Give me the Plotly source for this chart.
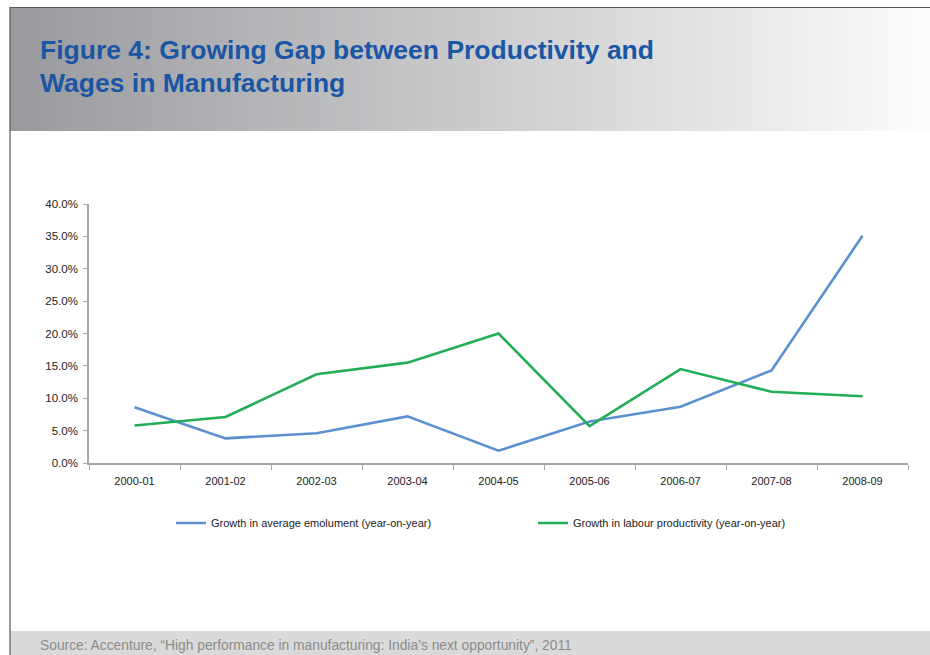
import plotly.graph_objects as go

categories = ["2000-01", "2001-02", "2002-03", "2003-04", "2004-05",
              "2005-06", "2006-07", "2007-08", "2008-09"]
emolument = [8.6, 3.8, 4.6, 7.2, 1.9, 6.4, 8.7, 14.3, 35.1]
productivity = [5.8, 7.1, 13.7, 15.5, 20.0, 5.7, 14.5, 11.0, 10.3]
y_ticks = [0, 5, 10, 15, 20, 25, 30, 35, 40]

W, H = 930, 655
L, R, T, B = 89, 22, 204, 192
PW = W - L - R
PH = H - T - B


def px_x(px):
    return (px - L) / PW


def px_y(py):
    return (H - B - py) / PH


fig = go.Figure()
fig.add_trace(go.Scatter(x=categories, y=emolument, mode="lines",
                         name="Growth in average emolument (year-on-year)",
                         line=dict(color="#5B90CF", width=2.6)))
fig.add_trace(go.Scatter(x=categories, y=productivity, mode="lines",
                         name="Growth in labour productivity (year-on-year)",
                         line=dict(color="#22AE57", width=2.6)))

shapes = []
# header gradient band
n = 120
x0, x1 = 10, 930
for i in range(n):
    t = i / (n - 1)
    c0 = (153, 154, 158)
    c1 = (252, 252, 252)
    c = tuple(int(round(c0[k] + (c1[k] - c0[k]) * t)) for k in range(3))
    a = x0 + (x1 - x0) * i / n
    b = x0 + (x1 - x0) * (i + 1) / n + 0.6
    shapes.append(dict(type="rect", xref="paper", yref="paper",
                       x0=px_x(a), x1=px_x(b), y0=px_y(131), y1=px_y(8),
                       fillcolor="rgb(%d,%d,%d)" % c, line=dict(width=0),
                       layer="below"))
# footer band
shapes.append(dict(type="rect", xref="paper", yref="paper",
                   x0=px_x(10), x1=px_x(930), y0=px_y(656), y1=px_y(631),
                   fillcolor="#DADADA", line=dict(width=0), layer="below"))
# border lines
shapes.append(dict(type="line", xref="paper", yref="paper",
                   x0=px_x(9.5), x1=px_x(930), y0=px_y(7.5), y1=px_y(7.5),
                   line=dict(color="#555555", width=1.2)))
shapes.append(dict(type="line", xref="paper", yref="paper",
                   x0=px_x(10), x1=px_x(10), y0=px_y(7.5), y1=px_y(656),
                   line=dict(color="#555555", width=1.2)))

annotations = [
    dict(text="<b>Figure 4: Growing Gap between Productivity and</b>",
         xref="paper", yref="paper", x=px_x(38), y=px_y(50),
         xanchor="left", yanchor="middle", showarrow=False,
         font=dict(family="Liberation Sans, Arial", size=26.5, color="#1A56A3")),
    dict(text="<b>Wages in Manufacturing</b>",
         xref="paper", yref="paper", x=px_x(38), y=px_y(83),
         xanchor="left", yanchor="middle", showarrow=False,
         font=dict(family="Liberation Sans, Arial", size=26.5, color="#1A56A3")),
    dict(text="Source: Accenture, \u201cHigh performance in manufacturing: India\u2019s next opportunity\u201d, 2011",
         xref="paper", yref="paper", x=px_x(38), y=px_y(645),
         xanchor="left", yanchor="middle", showarrow=False,
         font=dict(family="Liberation Sans, Arial", size=13.8, color="#8C8C8C")),
]

fig.update_layout(
    width=W, height=H,
    margin=dict(l=L, r=R, t=T, b=B),
    paper_bgcolor="white", plot_bgcolor="white",
    font=dict(family="Liberation Sans, Arial", size=11, color="#333333"),
    shapes=shapes, annotations=annotations,
    showlegend=True,
    legend=dict(orientation="h", x=px_x(171), y=px_y(523), xanchor="left",
                yanchor="middle", entrywidth=317, entrywidthmode="pixels",
                font=dict(size=11, color="#222222"), bgcolor="rgba(0,0,0,0)",
                itemwidth=30),
)
fig.update_xaxes(type="category", range=[-0.5, 8.5], showgrid=False,
                 showline=True, linecolor="#A6A6A6", linewidth=1.5,
                 ticks="outside", tickson="boundaries", ticklen=5,
                 tickcolor="#A6A6A6", zeroline=False, ticklabelstandoff=7,
                 tickfont=dict(size=11, color="#222222"))
fig.update_yaxes(range=[0, 40], tickvals=y_ticks,
                 ticktext=["%.1f%%" % v for v in y_ticks],
                 showgrid=False, showline=True, linecolor="#A6A6A6",
                 linewidth=1.5, ticks="outside", ticklen=4,
                 tickcolor="#A6A6A6", zeroline=False, ticklabelstandoff=3,
                 tickfont=dict(size=11.5, color="#222222"))

fig.write_html("out.html")
